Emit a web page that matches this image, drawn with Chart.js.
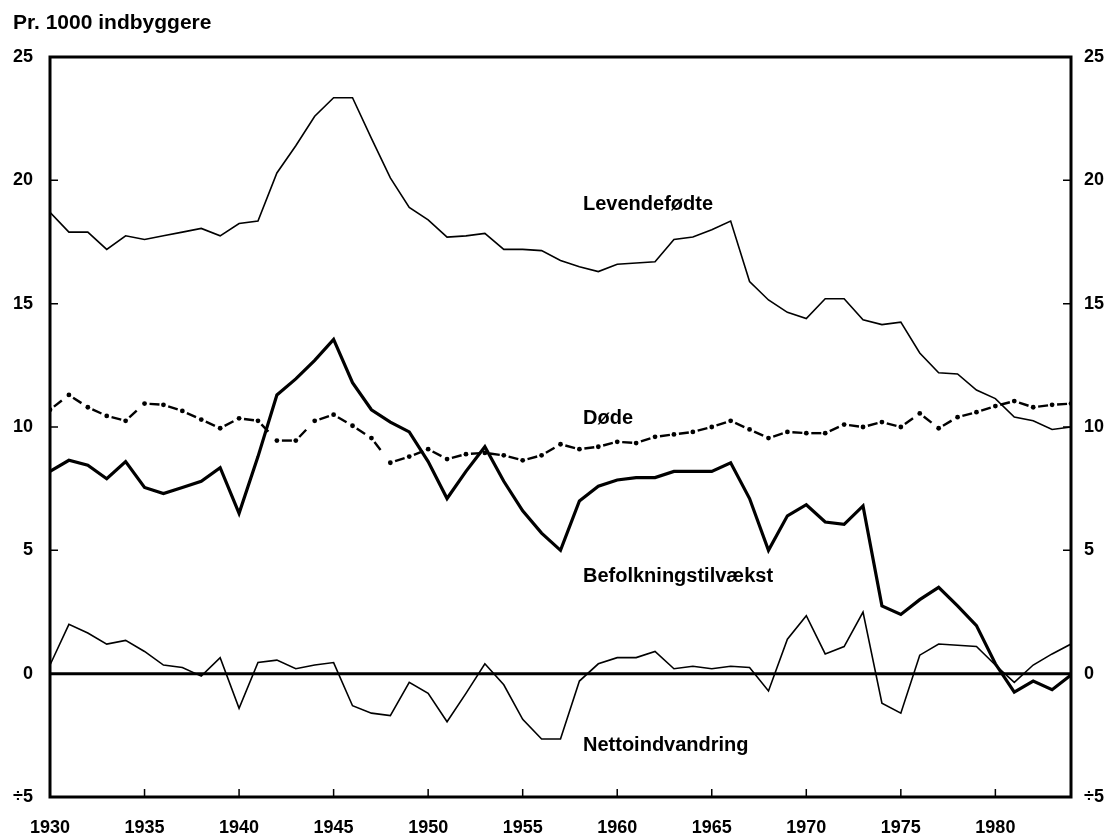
<!DOCTYPE html>
<html>
<head>
<meta charset="utf-8">
<script src="https://cdn.jsdelivr.net/npm/chart.js@4.4.1/dist/chart.umd.min.js"></script>
<style>
  body { margin: 0; background: #fff; }
  #wrap { position: relative; width: 1114px; height: 838px; }
  #unit { position: absolute; left: 13px; top: 10px; font: bold 21px "Liberation Sans", Arial, sans-serif; color: #000; }
</style>
</head>
<body>
<div id="wrap">
  <div id="unit">Pr. 1000 indbyggere</div>
  <canvas id="chart" width="1114" height="838"></canvas>
</div>
<script>
// Befolkningsbevægelser, pr. 1000 indbyggere, 1930-1984

const years = [
    1930, 1931, 1932, 1933, 1934, 1935, 1936, 1937, 1938, 1939,
    1940, 1941, 1942, 1943, 1944, 1945, 1946, 1947, 1948, 1949,
    1950, 1951, 1952, 1953, 1954, 1955, 1956, 1957, 1958, 1959,
    1960, 1961, 1962, 1963, 1964, 1965, 1966, 1967, 1968, 1969,
    1970, 1971, 1972, 1973, 1974, 1975, 1976, 1977, 1978, 1979,
    1980, 1981, 1982, 1983, 1984,
];

const levendefodte = [
    18.7, 17.9, 17.9, 17.2, 17.75, 17.6, 17.75, 17.9, 18.05, 17.75,
    18.25, 18.35, 20.3, 21.4, 22.6, 23.35, 23.35, 21.7, 20.1, 18.9,
    18.4, 17.7, 17.75, 17.85, 17.2, 17.2, 17.15, 16.75, 16.5, 16.3,
    16.6, 16.65, 16.7, 17.6, 17.7, 18.0, 18.35, 15.9, 15.15, 14.65,
    14.4, 15.2, 15.2, 14.35, 14.15, 14.25, 13.0, 12.2, 12.15, 11.5,
    11.15, 10.4, 10.25, 9.9, 10.0,
];

const dode = [
    10.7, 11.3, 10.8, 10.45, 10.25, 10.95, 10.9, 10.65, 10.3, 9.95,
    10.35, 10.25, 9.45, 9.45, 10.25, 10.5, 10.05, 9.55, 8.55, 8.8,
    9.1, 8.7, 8.9, 8.95, 8.85, 8.65, 8.85, 9.3, 9.1, 9.2,
    9.4, 9.35, 9.6, 9.7, 9.8, 10.0, 10.25, 9.9, 9.55, 9.8,
    9.75, 9.75, 10.1, 10.0, 10.2, 10.0, 10.55, 9.95, 10.4, 10.6,
    10.85, 11.05, 10.8, 10.9, 10.95,
];

const befolkningstilvaekst = [
    8.2, 8.65, 8.45, 7.9, 8.6, 7.55, 7.3, 7.55, 7.8, 8.35,
    6.5, 8.8, 11.3, 11.95, 12.7, 13.55, 11.8, 10.7, 10.2, 9.8,
    8.6, 7.1, 8.2, 9.2, 7.8, 6.6, 5.7, 5.0, 7.0, 7.6,
    7.85, 7.95, 7.95, 8.2, 8.2, 8.2, 8.55, 7.1, 5.0, 6.4,
    6.85, 6.15, 6.05, 6.8, 2.75, 2.4, 3.0, 3.5, 2.75, 1.95,
    0.4, -0.75, -0.3, -0.65, -0.05,
];

const nettoindvandring = [
    0.35, 2.0, 1.65, 1.2, 1.35, 0.9, 0.35, 0.25, -0.1, 0.65,
    -1.4, 0.45, 0.55, 0.2, 0.35, 0.45, -1.3, -1.6, -1.7, -0.35,
    -0.8, -1.95, -0.8, 0.4, -0.45, -1.85, -2.65, -2.65, -0.3, 0.4,
    0.65, 0.65, 0.9, 0.2, 0.3, 0.2, 0.3, 0.25, -0.7, 1.4,
    2.35, 0.8, 1.1, 2.5, -1.2, -1.6, 0.75, 1.2, 1.15, 1.1,
    0.35, -0.35, 0.35, 0.8, 1.2,
];

const xTicks = [1930, 1935, 1940, 1945, 1950, 1955, 1960, 1965, 1970, 1975, 1980];
const yTicks = [-5, 0, 5, 10, 15, 20, 25];

const seriesLabels = [
    { text: 'Levendefødte', x: 583, y: 204 },
    { text: 'Døde', x: 583, y: 418 },
    { text: 'Befolkningstilvækst', x: 583, y: 576 },
    { text: 'Nettoindvandring', x: 583, y: 745 },
];

const FONT = '"Liberation Sans", Arial, sans-serif';
const toXY = vals => years.map((yr, i) => ({ x: yr, y: vals[i] }));
const fmtY = v => (v < 0 ? '÷' + Math.abs(v) : String(v));

// frame, zero line, inward tick marks and the series labels
const framePlugin = {
    id: 'frame',
    afterDatasetsDraw(chart) {
        const { ctx, chartArea: a, scales } = chart;
        const xs = scales.x, ys = scales.y;
        ctx.save();
        ctx.strokeStyle = '#000';
        ctx.lineCap = 'butt';

        ctx.lineWidth = 3;
        const y0 = ys.getPixelForValue(0);
        ctx.beginPath();
        ctx.moveTo(a.left, y0);
        ctx.lineTo(a.right, y0);
        ctx.stroke();

        ctx.strokeRect(a.left, a.top, a.right - a.left, a.bottom - a.top);

        ctx.lineWidth = 1.5;
        ctx.beginPath();
        xTicks.slice(1).forEach(v => {
            const px = xs.getPixelForValue(v);
            ctx.moveTo(px, a.bottom);
            ctx.lineTo(px, a.bottom - 8);
        });
        yTicks.slice(1, -1).forEach(v => {
            const py = ys.getPixelForValue(v);
            ctx.moveTo(a.left, py);
            ctx.lineTo(a.left + 8, py);
            ctx.moveTo(a.right, py);
            ctx.lineTo(a.right - 8, py);
        });
        ctx.stroke();

        ctx.fillStyle = '#000';
        ctx.font = 'bold 20px ' + FONT;
        ctx.textAlign = 'left';
        ctx.textBaseline = 'middle';
        seriesLabels.forEach(l => ctx.fillText(l.text, l.x, l.y));
        ctx.restore();
    },
};

const tickFont = { family: FONT, size: 18, weight: 'bold' };

new Chart(document.getElementById('chart'), {
    type: 'line',
    data: {
        datasets: [
            {
                label: 'Levendefødte',
                data: toXY(levendefodte),
                borderColor: '#000',
                borderWidth: 1.6,
                pointRadius: 0,
                tension: 0,
            },
            {
                label: 'Døde',
                data: toXY(dode),
                borderColor: '#000',
                borderWidth: 2.4,
                borderDash: [0, 5, 10, 100],
                pointRadius: 2.4,
                pointBackgroundColor: '#000',
                pointBorderWidth: 0,
                tension: 0,
                // restart the dash at every point so each gap holds one dot
                segment: { borderDashOffset: c => (c.p0DataIndex % 2 ? 0 : 0.001) },
            },
            {
                label: 'Befolkningstilvækst',
                data: toXY(befolkningstilvaekst),
                borderColor: '#000',
                borderWidth: 3.2,
                pointRadius: 0,
                tension: 0,
            },
            {
                label: 'Nettoindvandring',
                data: toXY(nettoindvandring),
                borderColor: '#000',
                borderWidth: 1.6,
                pointRadius: 0,
                tension: 0,
            },
        ],
    },
    options: {
        responsive: false,
        animation: false,
        layout: { padding: { top: 57, left: 0, right: 0, bottom: 0 } },
        plugins: { legend: { display: false }, tooltip: { enabled: false } },
        scales: {
            x: {
                type: 'linear',
                position: 'bottom',
                min: 1930,
                max: 1984,
                afterFit: s => { s.height = 41; },
                grid: { display: false, drawTicks: false },
                border: { display: false },
                ticks: {
                    stepSize: 5,
                    includeBounds: false,
                    autoSkip: false,
                    maxRotation: 0,
                    padding: 20,
                    color: '#000',
                    font: tickFont,
                    callback: v => String(v),
                },
            },
            y: {
                position: 'left',
                min: -5,
                max: 25,
                afterFit: s => { s.width = 50; },
                grid: { display: false, drawTicks: false },
                border: { display: false },
                ticks: { stepSize: 5, padding: 17, color: '#000', font: tickFont, callback: fmtY },
            },
            y2: {
                position: 'right',
                min: -5,
                max: 25,
                afterFit: s => { s.width = 43; },
                grid: { display: false, drawTicks: false },
                border: { display: false },
                ticks: { stepSize: 5, padding: 13, color: '#000', font: tickFont, callback: fmtY },
            },
        },
    },
    plugins: [framePlugin],
});
</script>
</body>
</html>
